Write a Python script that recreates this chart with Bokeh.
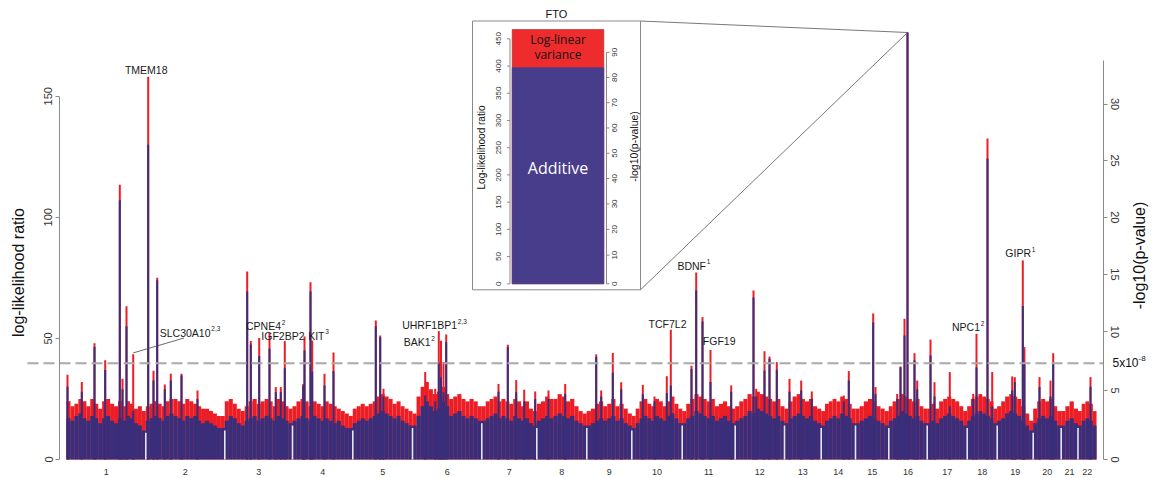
import math
import numpy as np
from bokeh.plotting import figure
from bokeh.models import Range1d, LinearAxis, FixedTicker, ColumnDataSource
from bokeh.core.properties import value
from bokeh.embed import file_html
from bokeh.resources import INLINE

# ---------------- data ----------------
chrom_names = [str(i) for i in range(1, 23)]
# relative width of each chromosome along the genome axis
chrom_span = [79.3, 79.0, 67.7, 60.3, 59.7, 69.3, 55.0, 50.0, 45.0, 50.4, 53.0,
              49.3, 36.7, 34.3, 33.3, 38.4, 40.0, 30.0, 36.0, 28.0, 16.8, 18.5]

# binned background signal per chromosome: additive LLR and total LLR (additive + log-linear variance)
bg_additive = [
    [17, 16, 18, 19, 17, 16, 18, 17, 15, 17, 18, 16, 15, 17, 16, 18, 17, 15, 14, 12],
    [16, 17, 18, 17, 16, 18, 19, 18, 17, 16, 18, 17, 18, 16, 15, 16, 15, 14, 13, 13],
    [16, 18, 17, 15, 14, 16, 17, 18, 16, 17, 18, 17, 16, 18, 17, 16, 15],
    [16, 17, 18, 17, 16, 18, 17, 16, 17, 16, 15, 16, 14, 13, 13],
    [15, 16, 17, 16, 17, 18, 19, 20, 19, 18, 17, 18, 16, 15, 14],
    [14, 18, 22, 24, 22, 20, 21, 24, 22, 18, 19, 20, 18, 17, 18, 17, 16],
    [16, 17, 18, 19, 17, 18, 17, 16, 18, 17, 16, 17, 15, 14],
    [16, 17, 18, 17, 18, 19, 18, 17, 18, 16, 15, 14],
    [14, 15, 16, 17, 16, 17, 18, 16, 17, 15, 14],
    [13, 15, 17, 18, 17, 16, 18, 17, 16, 18, 19, 17, 15],
    [15, 17, 18, 20, 19, 18, 17, 18, 16, 17, 18, 16, 15],
    [16, 17, 18, 20, 19, 21, 20, 19, 18, 17, 18, 16],
    [15, 17, 18, 19, 18, 17, 18, 16, 15],
    [14, 16, 17, 18, 17, 19, 18, 17, 15],
    [15, 16, 17, 18, 17, 16, 15, 14],
    [16, 17, 18, 20, 19, 18, 17, 18, 16, 15],
    [15, 16, 15, 17, 18, 19, 18, 17, 16, 14],
    [16, 18, 19, 20, 19, 18, 17, 15],
    [16, 17, 19, 20, 19, 18, 16, 14, 12],
    [15, 17, 18, 17, 18, 16, 14],
    [14, 16, 17, 15],
    [14, 16, 17, 16, 14],
]
bg_total = [
    [24, 22, 23, 25, 24, 22, 25, 23, 21, 24, 25, 23, 22, 24, 22, 24, 23, 21, 22, 20],
    [22, 23, 24, 23, 22, 24, 25, 25, 24, 23, 25, 24, 23, 22, 21, 21, 20, 19, 18, 18],
    [24, 25, 23, 21, 20, 22, 24, 25, 23, 24, 25, 24, 22, 25, 24, 22, 21],
    [22, 24, 25, 24, 22, 24, 23, 22, 24, 23, 22, 21, 20, 19, 18],
    [21, 22, 23, 22, 23, 24, 26, 27, 26, 25, 23, 24, 22, 21, 20],
    [19, 26, 30, 32, 29, 27, 28, 30, 27, 25, 26, 27, 25, 24, 25, 24, 22],
    [22, 24, 25, 26, 24, 25, 24, 23, 25, 24, 22, 24, 21, 20],
    [23, 24, 26, 25, 25, 27, 26, 24, 25, 22, 20, 19],
    [20, 21, 23, 24, 22, 23, 25, 22, 23, 21, 19],
    [18, 21, 24, 25, 23, 22, 25, 24, 22, 24, 26, 23, 21],
    [20, 23, 25, 27, 26, 25, 24, 25, 22, 23, 24, 22, 21],
    [22, 24, 25, 27, 26, 28, 27, 26, 25, 24, 25, 22],
    [21, 24, 26, 27, 25, 24, 25, 22, 21],
    [20, 23, 24, 25, 24, 26, 25, 23, 21],
    [21, 22, 24, 25, 24, 22, 21, 20],
    [22, 24, 25, 27, 26, 25, 24, 25, 22, 21],
    [21, 23, 21, 24, 25, 26, 25, 24, 22, 20],
    [22, 25, 26, 27, 26, 25, 24, 21],
    [22, 24, 26, 27, 26, 25, 22, 19, 16],
    [21, 24, 25, 24, 25, 22, 20],
    [20, 22, 24, 21],
    [20, 23, 24, 23, 20],
]

# individual loci standing out of the background
peak_chrom = [1, 1, 1, 1, 1, 1, 1, 1,
              2, 2, 2, 2, 2, 2, 2,
              3, 3, 3, 3, 3, 3, 3,
              4, 4, 4, 4, 4, 4,
              5, 5, 5,
              6, 6, 6, 6, 6, 6,
              7, 7, 7, 7, 7,
              8, 8,
              9, 9, 9, 9,
              10, 10, 10, 10,
              11, 11, 11, 11, 11,
              12, 12, 12, 12, 12,
              13, 13, 13,
              14, 14,
              15, 15,
              16, 16, 16, 16, 16, 16,
              17, 17, 17,
              18, 18, 18, 18,
              19, 19, 19, 19,
              20, 20, 20,
              22]
peak_offset = [1.0, 15.3, 28.0, 38.7, 53.3, 56.0, 60.0, 66.7,
               2.4, 7.7, 11.4, 19.0, 25.0, 35.7, 51.7,
               22.4, 26.0, 34.4, 44.7, 51.0, 56.0, 60.0,
               10.7, 12.0, 18.0, 19.7, 32.0, 41.0,
               23.0, 27.4, 30.7,
               12.7, 22.7, 26.3, 28.5, 31.0, 33.7,
               16.7, 26.0, 34.4, 42.4, 53.4,
               11.7, 28.4,
               9.4, 14.4, 26.0, 34.4,
               11.0, 22.7, 35.0, 39.0,
               9.3, 14.0, 20.3, 28.3, 49.0,
               18.3, 21.0, 29.3, 34.3, 41.6,
               5.0, 16.7, 27.3,
               22.6, 27.6,
               17.7, 20.0,
               8.4, 11.7, 15.7, 18.7, 25.7, 28.4,
               3.3, 7.3, 22.6,
               6.0, 9.3, 20.3, 25.0,
               15.0, 17.6, 25.6, 27.2,
               6.3, 17.3, 20.0,
               12.5]
peak_additive = [30, 28, 46.5, 37, 107, 29, 55, 20,
                 130, 32.6, 74, 29, 32.6, 34.7, 25,
                 69.4, 47.5, 42.7, 45.8, 27.8, 27.8, 37.7,
                 30.5, 45, 69.4, 36.3, 30.5, 36.5,
                 55, 50.5, 26,
                 26.4, 24, 40, 34, 27.8, 48.4,
                 28, 46.4, 27.8, 24, 25,
                 25, 27.1,
                 42.3, 26, 35.8, 29,
                 27, 24, 27.4, 30.5,
                 37.4, 69.8, 57, 32, 28,
                 66.9, 26, 36.7, 41.6, 37,
                 28, 28.5, 25,
                 24, 32.6,
                 56.6, 27,
                 25, 38.1, 51.2, 397, 40.9, 29,
                 42.9, 26, 22,
                 25, 38, 124.3, 22,
                 28.5, 32, 63.4, 40,
                 29.9, 26, 39.5,
                 30]
peak_total = [35, 32, 48, 41, 113.4, 33.3, 63.3, 43.5,
              158, 36.6, 75, 31, 35.4, 35.4, 28.5,
              77.6, 48.9, 50.2, 52.2, 29.9, 29.9, 48.9,
              31.2, 50.8, 73.2, 49.1, 35.4, 44.2,
              57.4, 51.2, 29.2,
              36.1, 29.2, 53, 49, 40.2, 51.6,
              31.2, 47.4, 32.8, 28.8, 28.1,
              28.5, 31.2,
              43.4, 28.5, 44, 31.9,
              30.8, 26, 34.4, 53.6,
              38.7, 77.2, 58.8, 45.2, 30.6,
              69.8, 29.2, 44.7, 42.5, 40.2,
              33.3, 32.6, 28.1,
              26.4, 36.5,
              60.3, 29.9,
              27.1, 38.4, 58.1, 467, 43.9, 32.6,
              49.5, 31.9, 36.1,
              27.1, 51.9, 132.5, 36.1,
              34.3, 34, 82.2, 46.4,
              34, 32.6, 43.9,
              34]

fto_chrom, fto_offset = 16, 18.7
fto_additive, fto_total = 397, 467

genome_wide_p = 5e-8
left_ticks = [0, 50, 100, 150]
right_ticks = [0, 5, 10, 15, 20, 25, 30]
inset_left_ticks = [0, 50, 100, 150, 200, 250, 300, 350, 400, 450]
inset_right_ticks = [0, 10, 20, 30, 40, 50, 60, 70, 80, 90]

gene_names = ["TMEM18", "SLC30A10", "CPNE4", "IGF2BP2", "KIT", "UHRF1BP1", "BAK1",
              "TCF7L2", "FGF19", "BDNF", "NPC1", "GIPR"]
gene_sups = ["", "2,3", "2", "", "3", "2,3", "2", "", "", "1", "2", "1"]

# ---------------- helpers ----------------
LN10 = math.log(10)


def neglog10p(llr):
    # LLR statistic referred to a chi-square with 4 degrees of freedom
    h = llr / 2.0
    return (h - math.log1p(h)) / LN10


def llr_at(t):
    lo, hi = 0.0, 3000.0
    for _ in range(200):
        mid = (lo + hi) / 2
        if neglog10p(mid) < t:
            lo = mid
        else:
            hi = mid
    return (lo + hi) / 2


# canvas layout (pixels); the plotting frame covers the whole canvas and
# the axes are pinned at fixed locations inside it
W, H = 1155, 478
AXIS_L, AXIS_R = 59, 1103
BASE_PX = 459            # canvas y of LLR = 0
PX_PER_LLR = 2.422
X0_PX = 66               # canvas x where chromosome 1 begins
Y_LIMIT = 176.3          # bars are cut at the top of the plotting region

INSET_BASE_PX = 283.3
INSET_PX_PER_LLR = 0.5444


def gx(px):
    return px - X0_PX


def gy(py):
    return (BASE_PX - py) / PX_PER_LLR


def iy(py):
    return (INSET_BASE_PX - py) / INSET_PX_PER_LLR


BLUE = "#3a2e7a"
RED = "#ec1d25"
IN_BLUE = "#483d8b"
IN_RED = "#ee2c2e"
SEP = "#e6e4f0"
AXIS_GREY = "#8a8a8a"
FONT = "Liberation Sans"

starts = np.concatenate([[0.0], np.cumsum(chrom_span)[:-1]])
mids = starts + np.array(chrom_span) / 2

p = figure(width=W, height=H, output_backend="svg", toolbar_location=None, tools="",
           x_range=Range1d(gx(0), gx(W)), y_range=Range1d(gy(H), gy(0)),
           min_border_left=0, min_border_right=0, min_border_top=0, min_border_bottom=0,
           outline_line_color=None, background_fill_color="white")
p.grid.visible = False
p.extra_y_ranges = {"inset": Range1d(iy(H), iy(0))}

# ---- background bins ----
bx, bw, badd, btot = [], [], [], []
for c in range(22):
    n = len(bg_additive[c])
    w = chrom_span[c] / n
    for i in range(n):
        bx.append(starts[c] + (i + 0.5) * w)
        bw.append(w + 0.06)
        badd.append(bg_additive[c][i])
        btot.append(bg_total[c][i])
bg = ColumnDataSource(dict(x=bx, w=bw, add=badd, tot=btot))

# ---- peaks ----
pk = ColumnDataSource(dict(x=[starts[c - 1] + o for c, o in zip(peak_chrom, peak_offset)],
                           add=np.minimum(peak_additive, Y_LIMIT),
                           tot=np.minimum(peak_total, Y_LIMIT)))

p.vbar(x="x", width="w", top="tot", bottom=0, source=bg, fill_color=RED, line_color=None)
p.vbar(x="x", width=2.0, top="tot", bottom=0, source=pk, fill_color=RED, line_color=None)
p.vbar(x="x", width="w", top="add", bottom=0, source=bg, fill_color=BLUE, line_color=None)
p.vbar(x="x", width=2.0, top="add", bottom=0, source=pk, fill_color=BLUE, line_color=None)

# chromosome separators
sep_x, sep_top = [], []
for c in range(1, 22):
    sep_x.append(starts[c])
    sep_top.append(min(bg_additive[c - 1][-1], bg_additive[c][0]) - 1)
p.segment(x0=sep_x, x1=sep_x, y0=[0] * len(sep_x), y1=sep_top, line_color=SEP, line_width=1.6)

# genome-wide significance threshold
thr = llr_at(-math.log10(genome_wide_p))
p.segment(x0=[gx(27)], x1=[gx(AXIS_R)], y0=[thr], y1=[thr],
          line_color="#a9a9a9", line_width=2, line_dash="11 5")


# ---- axes ----
def style_axis(a, size="11px"):
    a.major_tick_out = 4
    a.major_tick_in = 0
    a.minor_tick_line_color = None
    a.axis_line_color = AXIS_GREY
    a.major_tick_line_color = AXIS_GREY
    a.major_label_text_color = "#333333"
    a.major_label_text_font = FONT
    a.major_label_text_font_size = size
    a.major_label_standoff = 3


ax = p.yaxis[0]
style_axis(ax)
ax.ticker = FixedTicker(ticks=left_ticks)
ax.bounds = (0, 150)
ax.major_label_orientation = "vertical"
ax.fixed_location = gx(AXIS_L)

right_pos = [llr_at(t) for t in right_ticks]
rax = LinearAxis(ticker=FixedTicker(ticks=right_pos),
                 major_label_overrides={v: str(t) for v, t in zip(right_pos, right_ticks)},
                 bounds=(0, gy(60)), fixed_location=gx(AXIS_R))
style_axis(rax)
rax.major_label_orientation = "vertical"
p.add_layout(rax, "right")

xa = p.xaxis[0]
style_axis(xa, "9px")
xa.ticker = FixedTicker(ticks=list(mids))
xa.major_label_overrides = {float(m): n for m, n in zip(mids, chrom_names)}
xa.axis_line_color = None
xa.major_tick_line_color = None
xa.major_label_standoff = 5
xa.fixed_location = 0

text_kw = dict(text_font=value(FONT), text_color="#111111")
p.text(x=[gx(18)], y=[gy(272)], text=["log-likelihood ratio"], angle=math.pi / 2,
       text_align="center", text_baseline="middle", text_font_size="16px", **text_kw)
p.text(x=[gx(1139)], y=[gy(255)], text=["-log10(p-value)"], angle=math.pi / 2,
       text_align="center", text_baseline="middle", text_font_size="16px", **text_kw)
p.text(x=[gx(1112)], y=[thr], text=["5x10"], text_align="left", text_baseline="middle",
       text_font_size="12px", **text_kw)
p.text(x=[gx(1138)], y=[gy(358)], text=["-8"], text_align="left", text_baseline="middle",
       text_font_size="8px", **text_kw)

# ---- gene labels ----
label_right_px = [167, 210, 280.5, 304, 324, 456.5, 430, 686, 735, 705.5, 979.5, 1030.5]
label_mid_py = [69, 332, 325.5, 335.5, 335, 324.5, 341.5, 323.5, 340.5, 265, 326.5, 252.5]
lab = ColumnDataSource(dict(x=[gx(v) for v in label_right_px], y=[gy(v) for v in label_mid_py],
                            t=gene_names,
                            sx=[gx(v) + 0.8 for v in label_right_px],
                            sy=[gy(v - 4) for v in label_mid_py], s=gene_sups))
p.text(x="x", y="y", text="t", source=lab, text_align="right", text_baseline="middle",
       text_font=value(FONT), text_font_size="10.5px", text_color="#1a1a1a")
p.text(x="sx", y="sy", text="s", source=lab, text_align="left", text_baseline="middle",
       text_font=value(FONT), text_font_size="6.5px", text_color="#1a1a1a")

# leader from the SLC30A10 label down to its locus
slc = gene_names.index("SLC30A10")
slc_i = 7
p.segment(x0=[starts[peak_chrom[slc_i] - 1] + peak_offset[slc_i]], y0=[peak_total[slc_i] + 0.5],
          x1=[gx(183.5)], y1=[gy(337.5)], line_color="#444444", line_width=0.8)

# ---- FTO inset ----
fto_x = starts[fto_chrom - 1] + fto_offset
box_l, box_r, box_t, box_b = 472, 640, 20.5, 289.3
p.segment(x0=[gx(box_r), gx(box_r)], y0=[gy(box_t), gy(box_b)],
          x1=[fto_x, fto_x], y1=[Y_LIMIT, Y_LIMIT], line_color="#555555", line_width=0.8)
p.quad(left=gx(box_l), right=gx(box_r), top=iy(box_t), bottom=iy(box_b), y_range_name="inset",
       fill_color="white", line_color=AXIS_GREY, line_width=1)

bar_c, bar_w = gx(557.5), 91.6
p.vbar(x=[bar_c], width=bar_w, top=[fto_total], bottom=0, y_range_name="inset",
       fill_color=IN_RED, line_color="#b01e22", line_width=0.6)
p.vbar(x=[bar_c], width=bar_w, top=[fto_additive], bottom=0, y_range_name="inset",
       fill_color=IN_BLUE, line_color=IN_BLUE, line_width=0.6)

# inset axes
lx = gx(509.5)
p.segment(x0=[lx], x1=[lx], y0=[0], y1=[inset_left_ticks[-1]], y_range_name="inset",
          line_color=AXIS_GREY, line_width=1)
p.segment(x0=[lx - 3] * len(inset_left_ticks), x1=[lx] * len(inset_left_ticks),
          y0=inset_left_ticks, y1=inset_left_ticks, y_range_name="inset",
          line_color=AXIS_GREY, line_width=1)
p.text(x=[gx(497.5)] * len(inset_left_ticks), y=inset_left_ticks,
       text=[str(v) for v in inset_left_ticks], angle=math.pi / 2, y_range_name="inset",
       text_align="center", text_baseline="middle", text_font=value(FONT),
       text_font_size="8px", text_color="#333333")
rpos = [llr_at(t) for t in inset_right_ticks]
rx = gx(606)
p.segment(x0=[rx], x1=[rx], y0=[0], y1=[rpos[-1]], y_range_name="inset",
          line_color=AXIS_GREY, line_width=1)
p.segment(x0=[rx] * len(rpos), x1=[rx + 3] * len(rpos), y0=rpos, y1=rpos,
          y_range_name="inset", line_color=AXIS_GREY, line_width=1)
p.text(x=[gx(613.5)] * len(rpos), y=rpos, text=[str(v) for v in inset_right_ticks],
       angle=math.pi / 2, y_range_name="inset", text_align="center", text_baseline="middle",
       text_font=value(FONT), text_font_size="8px", text_color="#333333")

p.text(x=[gx(481)], y=[iy(147)], text=["Log-likelihood ratio"], angle=math.pi / 2,
       y_range_name="inset", text_align="center", text_baseline="middle",
       text_font_size="10px", **text_kw)
p.text(x=[gx(633.5)], y=[iy(146)], text=["-log10(p-value)"], angle=math.pi / 2,
       y_range_name="inset", text_align="center", text_baseline="middle",
       text_font_size="10.5px", **text_kw)
p.text(x=[gx(556)], y=[iy(13)], text=["FTO"], y_range_name="inset", text_align="center",
       text_baseline="middle", text_font_size="11px", **text_kw)
p.text(x=[bar_c, bar_c], y=[iy(38.5), iy(53.5)], text=["Log-linear", "variance"],
       y_range_name="inset", text_align="center", text_baseline="middle",
       text_font=value("Open Sans"), text_font_size="12px", text_color="#111111")
p.text(x=[bar_c], y=[iy(167)], text=["Additive"], y_range_name="inset", text_align="center",
       text_baseline="middle", text_font=value("Open Sans"), text_font_size="16px",
       text_color="white")

open("out.html", "w").write(file_html(p, INLINE))
